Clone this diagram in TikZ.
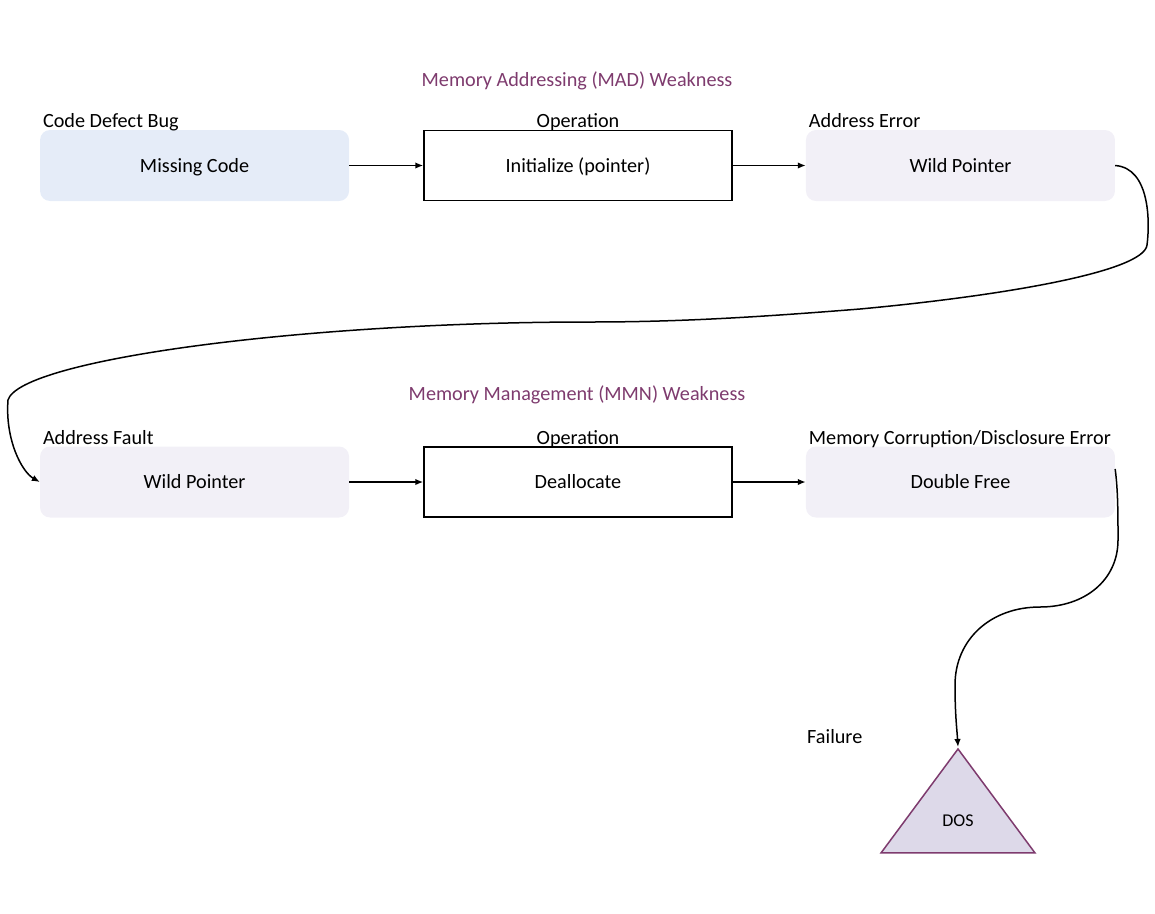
\documentclass[tikz,border=0pt]{standalone}
\usepackage{fontspec}
\setmainfont{Carlito}
\usetikzlibrary{positioning,arrows.meta,shapes.geometric}
\definecolor{plum}{HTML}{7E3B6E}
\definecolor{paleblue}{HTML}{E5ECF8}
\definecolor{palelilac}{HTML}{F2F0F7}
\definecolor{lilac}{HTML}{DDD9E9}
\tikzset{
  stagebox/.style={rounded corners=10pt, minimum width=309pt, minimum height=71pt, inner sep=0pt,
                   text height=13pt, text depth=0pt},
  defect/.style={stagebox, fill=paleblue},
  fault/.style={stagebox, fill=palelilac},
  opbox/.style={draw, line width=1.5pt, minimum width=308pt, minimum height=70pt, inner sep=0pt,
                text height=13pt, text depth=0pt},
  tag/.style={inner sep=0pt, anchor=base west, xshift=3pt, yshift=2pt},
  optag/.style={inner sep=0pt, anchor=base, yshift=2pt},
  weakness/.style={text=plum},
  fwd/.style={-{Latex[length=8pt,width=6.5pt]}, line width=1.5pt},
  failure/.style={isosceles triangle, isosceles triangle stretches, shape border rotate=90,
                  draw=plum, fill=lilac, line width=1.5pt,
                  minimum width=154pt, minimum height=104pt, inner sep=0pt},
}

\begin{document}
\begin{tikzpicture}[x=1pt, y=-1pt, font=\fontsize{20.2}{24}\selectfont]
  \useasboundingbox (0,0) rectangle (1155,913);

  % first weakness: addressing
  \node[weakness] (madtitle) at (577,81) {Memory Addressing (MAD) Weakness};
  \node[opbox] (init) at (578,165.5) {Initialize (pointer)};
  \node[defect, left=74pt of init] (missing) {Missing Code};
  \node[fault, right=73pt of init] (wildptr) {Wild Pointer};
  \node[tag] (bugtag) at (missing.north west) {Code Defect Bug};
  \node[optag] (inittag) at (init.north) {Operation};
  \node[tag] (errtag) at (wildptr.north west) {Address Error};

  \draw[fwd] (missing) -- (init);
  \draw[fwd] (init) -- (wildptr);

  % second weakness: management
  \node[weakness] (mmntitle) at (577,395) {Memory Management (MMN) Weakness};
  \node[opbox, below=245pt of init] (dealloc) {Deallocate};
  \node[fault, left=74pt of dealloc] (wildfault) {Wild Pointer};
  \node[fault, right=73pt of dealloc] (dblfree) {Double Free};
  \node[tag] (faulttag) at (wildfault.north west) {Address Fault};
  \node[optag] (dealloctag) at (dealloc.north) {Operation};
  \node[tag] (corrtag) at (dblfree.north west) {Memory Corruption/Disclosure Error};

  \draw[fwd] (wildfault) -- (dealloc);
  \draw[fwd] (dealloc) -- (dblfree);

  % failure
  \node[failure, anchor=apex, font=\fontsize{18}{20}\selectfont] (dos) at (958,747) {DOS};
  \node[anchor=west, inner sep=0pt] (failtag) at (807,737) {Failure};

  % error of one weakness is the fault of the next
  \draw[fwd] (wildptr.east) .. controls (1150,168) and (1150,222) .. (1147,245)
    .. controls (1144,272) and (1000,296) .. (860,309)
    .. controls (760,317) and (680,322) .. (590,322)
    .. controls (300,322) and (20,360) .. (8,400)
    .. controls (5,440) and (22,472) .. (wildfault.west);
  \draw[fwd] ([yshift=13pt]dblfree.east) .. controls (1118,490) and (1118,515) .. (1118,540)
    .. controls (1118,580) and (1085,607) .. (1040,607)
    .. controls (990,607) and (955,640) .. (955,685)
    .. controls (955,715) and (957,730) .. (dos.apex);
\end{tikzpicture}
\end{document}
